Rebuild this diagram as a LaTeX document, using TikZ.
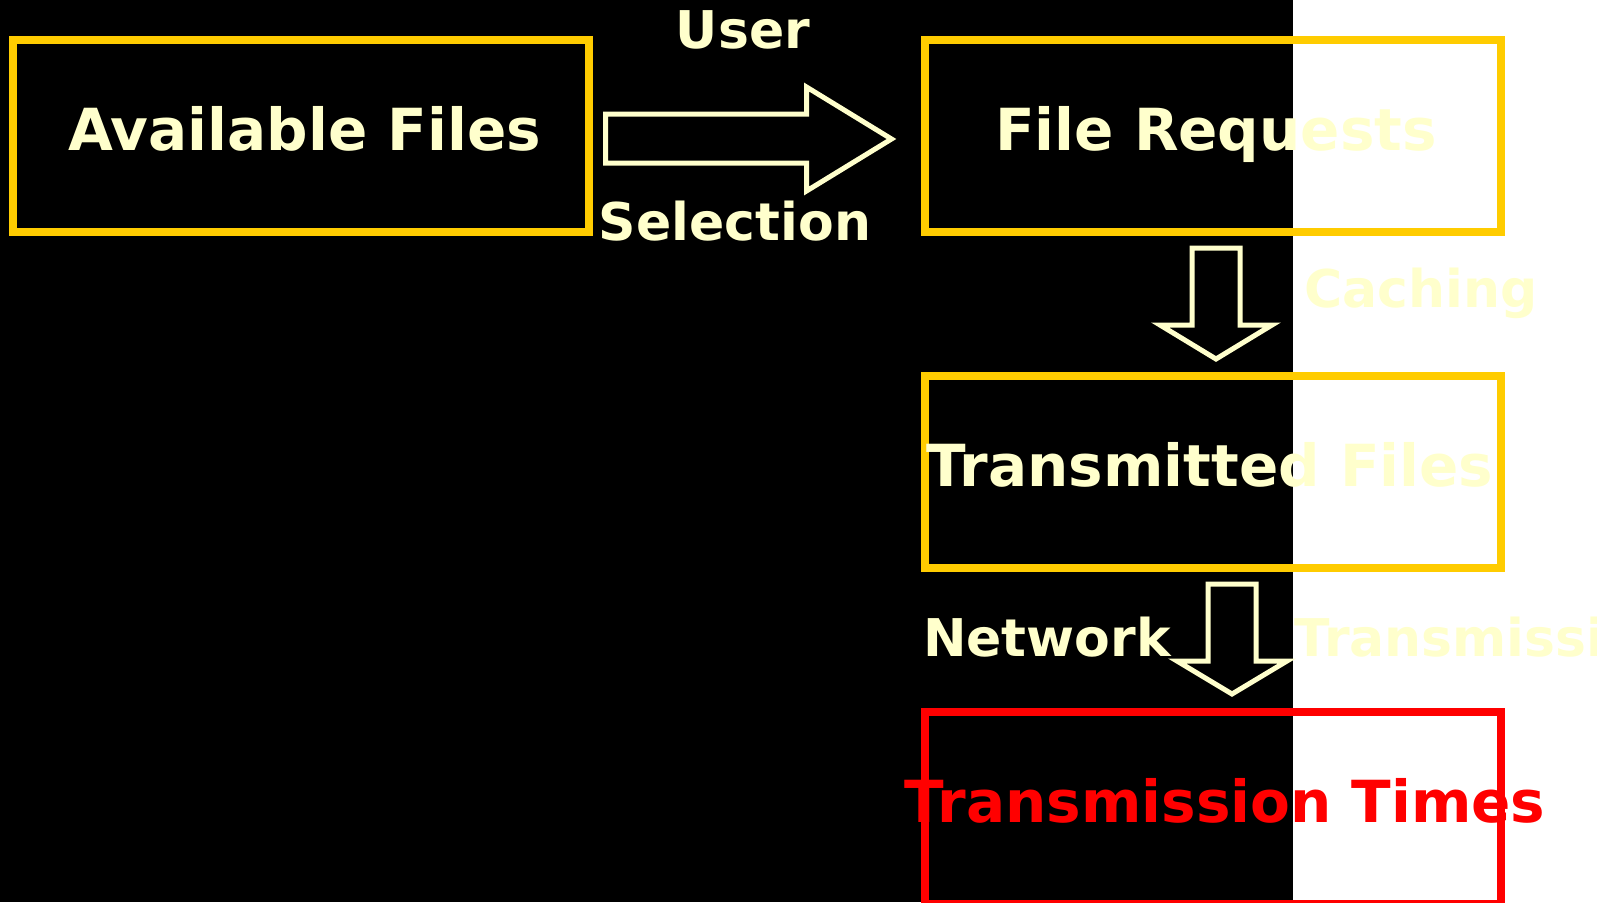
\documentclass[tikz,border=0pt]{standalone}
\usepackage{fontspec}
\setmainfont{DejaVu Sans}
\definecolor{boxyellow}{HTML}{FFCC00}
\definecolor{paleyellow}{HTML}{FFFFCC}
\definecolor{timesred}{HTML}{FF0000}

\begin{document}
\begin{tikzpicture}[x=1pt,y=-1pt,
  stagebox/.style={draw=boxyellow, line width=8pt, minimum width=576pt, minimum height=192pt, inner sep=0pt},
  bigtext/.style={text=paleyellow, font=\fontsize{58}{60}\selectfont\bfseries, inner sep=0pt, text height=40pt, text depth=12pt},
  smalltext/.style={text=paleyellow, font=\fontsize{52}{54}\selectfont\bfseries, inner sep=0pt},
  blockarr/.style={draw=paleyellow, line width=5pt, fill=black, line join=miter}]
% Background, black with a white strip on the right
\useasboundingbox (0,0) rectangle (1597,902);
\fill[white] (0,0) rectangle (1597,902);
\fill[black] (0,0) rectangle (1293,902);

% Stage boxes
\node[stagebox] (avail) at (300.5,136) {};
\node[stagebox] (req) at (1213,136) {};
\node[stagebox] (trans) at (1213,472) {};
\node[stagebox, draw=timesred] (times) at (1213,808) {};

% Block arrows between the boxes
\draw[blockarr] ([shift={(13,-22)}]avail.east) -- ++(201,0) -- ++(0,-27) -- ++(85,52) -- ++(-85,52) -- ++(0,-28) -- ++(-201,0) -- cycle;
\draw[blockarr] ([shift={(-21,12)}]req.south) -- ++(48,0) -- ++(0,77) -- ++(32,0) -- ++(-56,34) -- ++(-56,-34) -- ++(32,0) -- cycle;
\draw[blockarr] ([shift={(-5,12)}]trans.south) -- ++(48,0) -- ++(0,77) -- ++(31,0) -- ++(-55,33) -- ++(-55,-33) -- ++(31,0) -- cycle;

% Box texts
\node[bigtext] (availtxt) at ([xshift=4]avail) {Available Files};
\node[bigtext] (reqtxt) at ([xshift=3]req) {File Requests};
\node[bigtext] (transtxt) at ([xshift=-3]trans) {Transmitted Files};
\node[bigtext, text=timesred] (timestxt) at ([xshift=12]times) {Transmission Times};

% Arrow labels
\node[smalltext, anchor=base] (user) at (743,48) {User};
\node[smalltext, anchor=base] (selection) at (735,240) {Selection};
\node[smalltext, anchor=base west] (caching) at (1304,307) {Caching};
\node[smalltext, anchor=base west] (network) at (923,656) {Network};
\node[smalltext, anchor=base west] (transmission) at (1294,656) {Transmission};
\end{tikzpicture}
\end{document}
